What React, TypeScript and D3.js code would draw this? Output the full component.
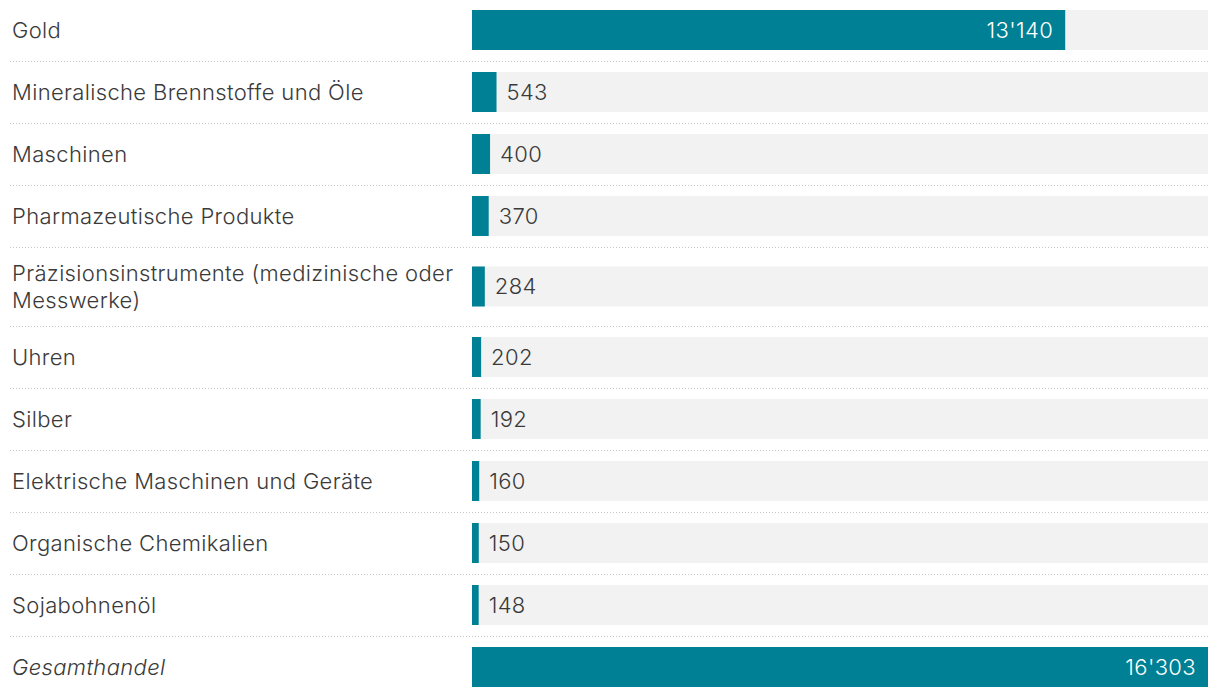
import React from "react";
import * as d3 from "d3";

const categories: string[] = [
  "Gold",
  "Mineralische Brennstoffe und Öle",
  "Maschinen",
  "Pharmazeutische Produkte",
  "Präzisionsinstrumente (medizinische oder|Messwerke)",
  "Uhren",
  "Silber",
  "Elektrische Maschinen und Geräte",
  "Organische Chemikalien",
  "Sojabohnenöl",
  "Gesamthandel",
];
const values: number[] = [13140, 543, 400, 370, 284, 202, 192, 160, 150, 148, 16303];
const totalIndex = 10;

const W = 1220;
const H = 698;
const BAR_X0 = 472;
const BAR_X1 = 1208;
const LABEL_X = 12;
const BAR_H = 40;
const COLOR = "#008094";
const BG = "#f2f2f2";
const TEXT = "#3a3a3a";
const FONT = "Inter, Roboto, 'Noto Sans', sans-serif";
const FS = 22;
const LS = 0.35;

const fmt = (v: number) => d3.format(",")(v).replace(/,/g, "'");

export default function App() {
  const x = d3.scaleLinear().domain([0, d3.max(values) as number]).range([BAR_X0, BAR_X1]);

  const heights = categories.map((c) => (c.includes("|") ? 79 : 62));
  const tops: number[] = [];
  let acc = 0;
  heights.forEach((h) => {
    tops.push(acc);
    acc += h;
  });

  return (
    <svg
      width={W}
      height={H}
      style={{ position: "absolute", left: 0, top: 0, background: "#fff" }}
      fontFamily={FONT}
    >
      {categories.map((c, i) => {
        const top = tops[i];
        const h = heights[i];
        const cy = top + h / 2 - 1;
        const barY = cy - BAR_H / 2;
        const v = values[i];
        const xe = x(v);
        const big = xe - BAR_X0 > 120;
        const lines = c.split("|");
        const isTotal = i === totalIndex;
        return (
          <g key={c}>
            <rect x={BAR_X0} y={barY} width={BAR_X1 - BAR_X0} height={BAR_H} fill={BG} />
            <rect x={BAR_X0} y={barY} width={xe - BAR_X0} height={BAR_H} fill={COLOR} />
            <text
              x={big ? xe - 12 : xe + 10}
              y={cy}
              dy="0.36em"
              textAnchor={big ? "end" : "start"}
              fill={big ? "#ffffff" : TEXT}
              fontSize={FS}
              fontWeight={300}
              letterSpacing={LS}
            >
              {fmt(v)}
            </text>
            <text
              x={LABEL_X}
              y={cy - ((lines.length - 1) * 27) / 2}
              fill={TEXT}
              fontSize={FS}
              fontWeight={300}
              letterSpacing={LS}
              fontStyle={isTotal ? "italic" : "normal"}
            >
              {lines.map((l, k) => (
                <tspan key={k} x={LABEL_X} dy={k === 0 ? "0.36em" : 27}>
                  {l}
                </tspan>
              ))}
            </text>
            {i < categories.length - 1 && (
              <line
                x1={10}
                x2={BAR_X1}
                y1={top + h - 0.5}
                y2={top + h - 0.5}
                stroke="#c8c8c8"
                strokeWidth={1}
                strokeDasharray="1,2"
              />
            )}
          </g>
        );
      })}
    </svg>
  );
}
